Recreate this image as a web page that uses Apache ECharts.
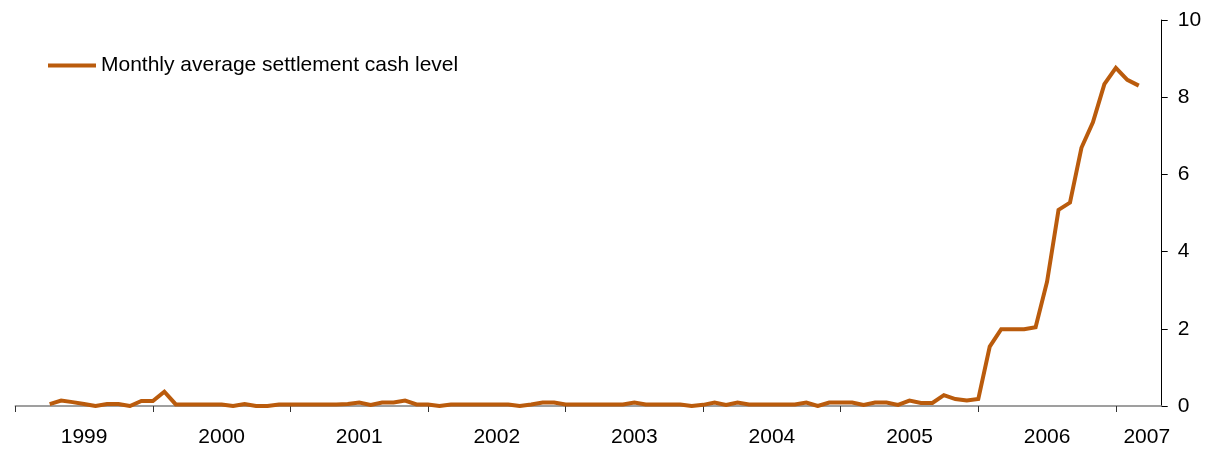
<!DOCTYPE html>
<html>
<head>
<meta charset="utf-8">
<style>
  html, body { margin: 0; padding: 0; background: #fff; }
  #chart { width: 1212px; height: 450px; }
</style>
<script src="https://cdn.jsdelivr.net/npm/echarts@6/dist/echarts.min.js"></script>
</head>
<body>
<div id="chart"></div>
<script>
// Month index 0 = January 1999; the axis runs to month 100 (May 2007).
const firstMonthIndex = 3;          // first observation: April 1999
const axisMonths = 100;
const yearLabels = ['1999', '2000', '2001', '2002', '2003', '2004', '2005', '2006', '2007'];
const yearTickMonths = [0, 12, 24, 36, 48, 60, 72, 84, 96];
const yearLabelMonths = [6, 18, 30, 42, 54, 66, 78, 90, 98.7];
const yTicks = [0, 2, 4, 6, 8, 10];

// Monthly average settlement cash level, April 1999 – March 2007
const cashLevel = [
  0.05, 0.14, 0.10, 0.05, 0.00, 0.05, 0.05, 0.00, 0.13,             // 1999 Apr–Dec
  0.13, 0.37, 0.04, 0.04, 0.04, 0.04, 0.04, 0.00, 0.05, 0.00, 0.00, 0.04, // 2000
  0.04, 0.04, 0.04, 0.04, 0.04, 0.05, 0.09, 0.03, 0.09, 0.09, 0.14, 0.04, // 2001
  0.04, 0.00, 0.04, 0.04, 0.04, 0.04, 0.04, 0.04, 0.00, 0.04, 0.09, 0.09, // 2002
  0.04, 0.04, 0.04, 0.04, 0.04, 0.04, 0.09, 0.04, 0.04, 0.04, 0.04, 0.00, // 2003
  0.03, 0.09, 0.03, 0.09, 0.04, 0.04, 0.04, 0.04, 0.04, 0.09, 0.00, 0.09, // 2004
  0.09, 0.09, 0.03, 0.09, 0.09, 0.03, 0.14, 0.08, 0.08, 0.28, 0.18, 0.14, // 2005
  0.18, 1.54, 1.99, 1.99, 1.99, 2.04, 3.22, 5.08, 5.27, 6.69, 7.35, 8.34, // 2006
  8.76, 8.45, 8.30                                                   // 2007 Jan–Mar
];

const seriesName = 'Monthly average settlement cash level';
const lineColor = '#BA5B0C';
const font = 'Liberation Sans, Arial, sans-serif';

const points = cashLevel.map((v, i) => [firstMonthIndex + i, v]);

const chart = echarts.init(document.getElementById('chart'), null, { renderer: 'canvas' });
chart.setOption({
  animation: false,
  backgroundColor: '#ffffff',
  grid: { left: 15.3, right: 50.3, top: 20, bottom: 44 },
  legend: {
    left: 43,
    top: 50,
    icon: 'rect',
    itemWidth: 48,
    itemHeight: 4,
    textStyle: { fontFamily: font, fontSize: 21, color: '#000' },
    data: [seriesName]
  },
  xAxis: {
    type: 'value',
    min: 0,
    max: axisMonths,
    axisLine: { show: true, onZero: false, lineStyle: { color: '#808080', width: 1.5 } },
    axisTick: {
      show: true,
      length: 6,
      customValues: yearTickMonths,
      lineStyle: { color: '#333', width: 1 }
    },
    splitLine: { show: false },
    axisLabel: {
      customValues: yearLabelMonths,
      formatter: (v) => yearLabels[Math.floor(v / 12)],
      fontFamily: font,
      fontSize: 21,
      color: '#000',
      margin: 21
    }
  },
  yAxis: {
    type: 'value',
    position: 'right',
    min: 0,
    max: 10,
    interval: 2,
    axisLine: { show: true, onZero: false, lineStyle: { color: '#000', width: 1 } },
    axisTick: { show: true, length: 6, lineStyle: { color: '#000' } },
    splitLine: { show: false },
    axisLabel: {
      fontFamily: font,
      fontSize: 21,
      color: '#000',
      margin: 16,
      formatter: (v) => yTicks.includes(v) ? String(v) : ''
    }
  },
  series: [{
    name: seriesName,
    type: 'line',
    data: points,
    showSymbol: false,
    symbol: 'none',
    color: lineColor,
    lineStyle: { color: lineColor, width: 4, join: 'miter' },
    z: 3
  }]
});
</script>
</body>
</html>
